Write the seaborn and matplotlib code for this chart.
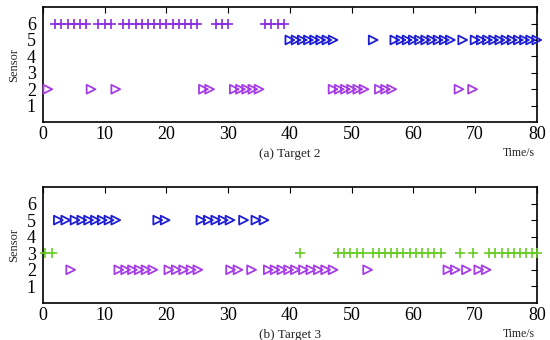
import numpy as np
import pandas as pd
import matplotlib
matplotlib.use("Agg")
import matplotlib.pyplot as plt
import seaborn as sns

sns.set_theme(style="white")
plt.rcParams['font.family'] = ['Liberation Serif', 'DejaVu Serif']

# ---- Target 2 data ----
t2_s6 = [2, 3, 4, 5, 6, 7, 9, 10, 11, 13, 14, 15, 16, 17, 18, 19, 20, 21, 22, 23, 24, 25,
         28, 29, 30, 36, 37, 38, 39]
t2_s5 = [40, 41, 42, 43, 44, 45, 46, 47, 53.5, 57, 58, 59, 60, 61, 62, 63, 64, 65, 66, 68,
         70, 71, 72, 73, 74, 75, 76, 77, 78, 79, 80]
t2_s2 = [0.8, 7.8, 11.8, 26, 27, 31, 32, 33, 34, 35, 47, 48, 49, 50, 51, 52, 54.5, 55.5, 56.5,
         67.4, 69.6]

# ---- Target 3 data ----
t3_s5 = [2.5, 3.7, 5.2, 6.3, 7.4, 8.5, 9.6, 10.7, 11.8, 18.6, 19.8, 25.6, 26.8, 28, 29.2, 30.3,
         32.5, 34.5, 35.8]
t3_s3 = [0.4, 1.5, 41.7, 47.8, 48.8, 49.8, 50.8, 51.8, 53.4, 54.4, 55.4, 56.4, 57.4, 58.4, 59.4,
         60.4, 61.4, 62.4, 63.4, 64.5, 67.6, 69.6, 72.3, 73.3, 74.3, 75.3, 76.3, 77.3, 78.3, 79.3, 80]
t3_s2 = [4.5, 12.3, 13.4, 14.5, 15.6, 16.7, 17.8, 20.4, 21.6, 22.8, 24, 25.1, 30.4, 31.6, 33.8,
         36.5, 37.6, 38.7, 39.8, 40.9, 42.2, 43.4, 44.6, 45.8, 47, 52.6, 65.6, 66.8, 68.6, 70.6, 71.8]

xticks = [0, 10, 20, 30, 40, 50, 60, 70, 80]
yticks = [1, 2, 3, 4, 5, 6]

C_PURPLE = "#8a2be2"
C_BLUE = "#1e1ed2"
C_MAGENTA = "#a63ce6"
C_GREEN = "#66cc22"

fig = plt.figure(figsize=(5.5, 3.4), dpi=100)
ax1 = fig.add_axes([0.078, 0.641, 0.898, 0.338])
ax2 = fig.add_axes([0.078, 0.109, 0.898, 0.341])


def plot_series(ax, xs, yv, color, kind):
    df = pd.DataFrame({"t": xs, "s": [yv] * len(xs)})
    if kind == "plus":
        sns.scatterplot(data=df, x="t", y="s", marker="+", s=55, color=color,
                        linewidth=1.2, ax=ax, clip_on=False, zorder=3)
    else:
        sns.scatterplot(data=df, x="t", y="s", marker=">", s=40, color=color,
                        facecolor="none", edgecolor=color, linewidth=1.3, ax=ax,
                        clip_on=False, zorder=3)


plot_series(ax1, t2_s6, 6, C_PURPLE, "plus")
plot_series(ax1, t2_s5, 5, C_BLUE, "tri")
plot_series(ax1, t2_s2, 2, C_MAGENTA, "tri")

plot_series(ax2, t3_s5, 5, C_BLUE, "tri")
plot_series(ax2, t3_s3, 3, C_GREEN, "plus")
plot_series(ax2, t3_s2, 2, C_MAGENTA, "tri")

for ax, lab in [(ax1, "(a) Target 2"), (ax2, "(b) Target 3")]:
    ax.set_xlim(0, 80)
    ax.set_ylim(0, 7)
    ax.set_xticks(xticks)
    ax.set_yticks(yticks)
    ax.set_xticklabels([str(v) for v in xticks])
    ax.set_yticklabels([str(v) for v in yticks])
    ax.tick_params(direction="in", top=True, right=True, labelsize=13,
                   length=4, width=0.8, colors="black")
    ax.tick_params(axis="y", pad=5)
    ax.tick_params(axis="x", pad=3)
    for sp in ax.spines.values():
        sp.set_visible(True)
        sp.set_color("black")
        sp.set_linewidth(1.2)
    ax.set_xlabel("")
    ax.set_ylabel("Sensor", fontsize=9, labelpad=5)
    ax.text(0.5, -0.28, lab, transform=ax.transAxes, ha="center", va="center", fontsize=9.5)
    ax.text(0.995, -0.27, "Time/s", transform=ax.transAxes, ha="right", va="center", fontsize=8.5)
    ax.grid(False)

fig.savefig("out.png", dpi=100)
